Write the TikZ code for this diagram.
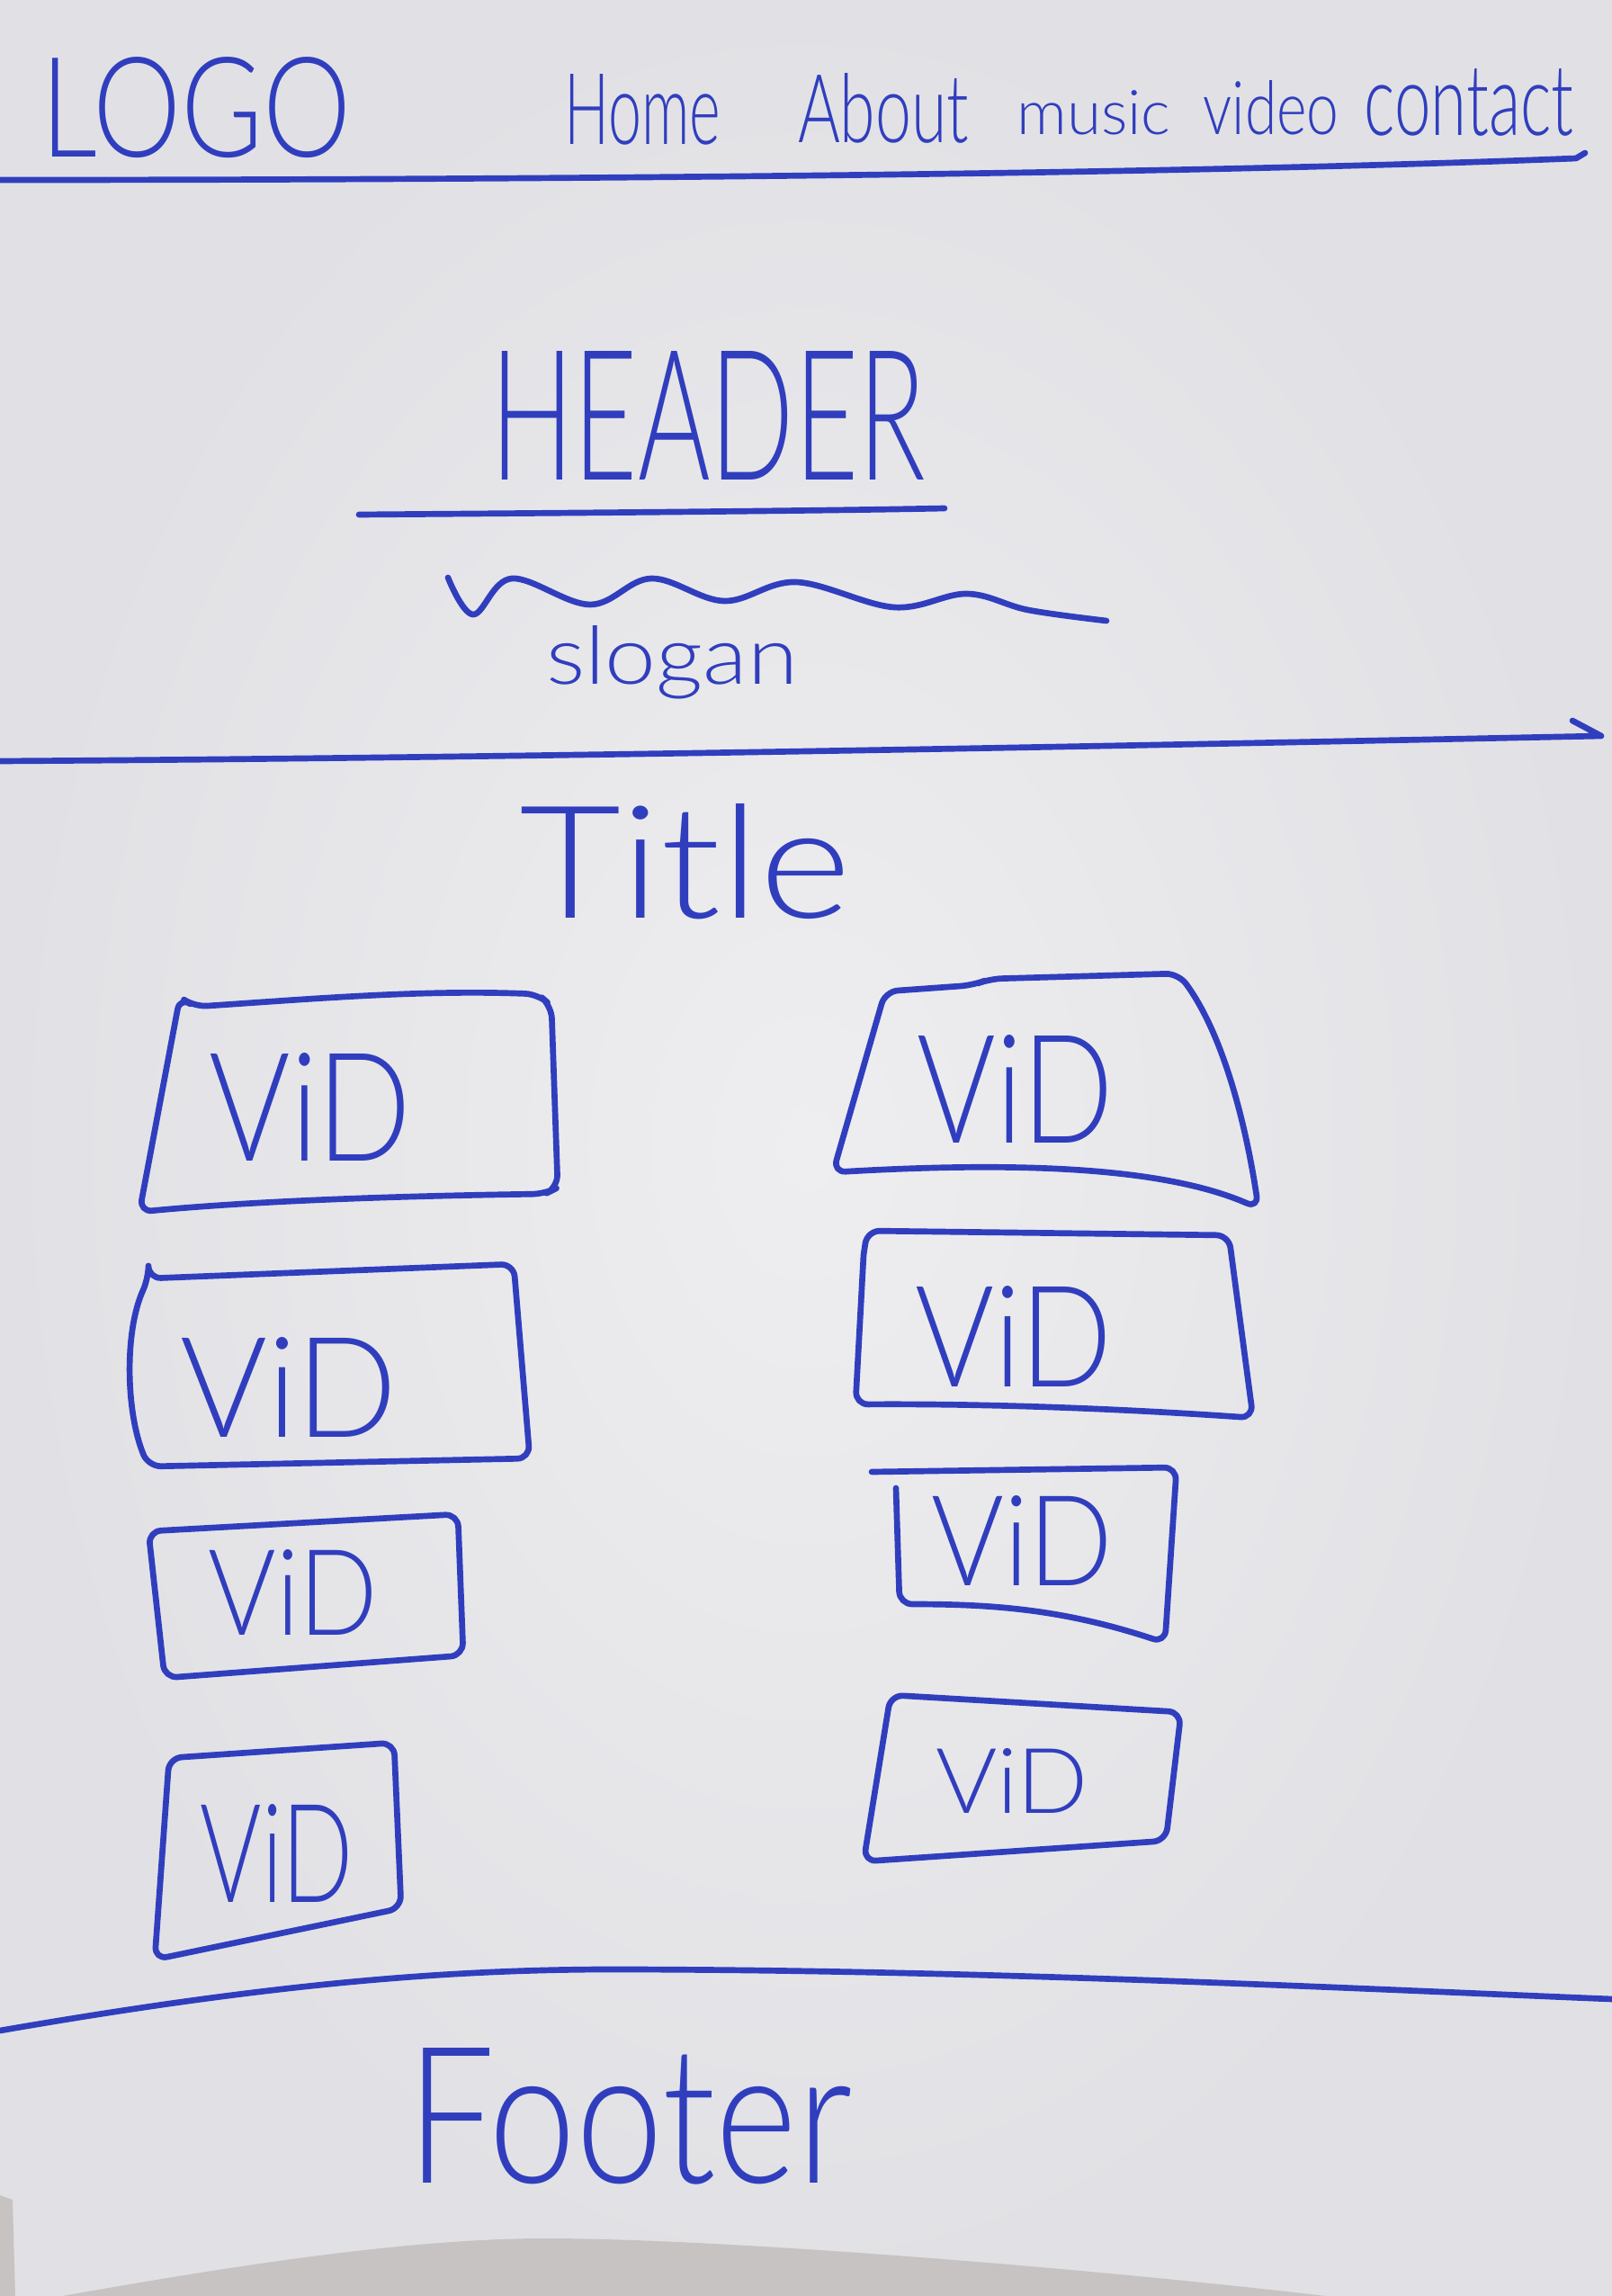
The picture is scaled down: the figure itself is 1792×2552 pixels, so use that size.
\documentclass[tikz,border=0pt]{standalone}
\usepackage{fontspec}
\usepackage{graphicx}
\IfFontExistsTF{Lato-Light.ttf}{\newfontfamily\hand{Lato-Light.ttf}}{%
  \IfFontExistsTF{Lato Light}{\newfontfamily\hand{Lato Light}}{%
    \IfFontExistsTF{FiraSans-Light.otf}{\newfontfamily\hand{FiraSans-Light.otf}}{%
      \newfontfamily\hand{Open Sans}}}}
\newlength\pxu
\setlength\pxu{0.01cm}
\newcommand\hw[3]{\resizebox{#1\pxu}{#2\pxu}{\hand #3}}
\definecolor{ink}{RGB}{48,62,190}
\definecolor{paper}{RGB}{225,225,229}
\definecolor{paperlight}{RGB}{238,238,240}
\definecolor{floorgray}{RGB}{198,195,194}
\begin{document}
\begin{tikzpicture}[x=0.01cm,y=-0.01cm,
  pen/.style={draw=ink, line width=1.9pt, line cap=round, line join=round},
  vidbox/.style={pen, rounded corners=4pt},
  lbl/.style={inner sep=0pt, outer sep=0pt, text=ink}]
\useasboundingbox (0,0) rectangle (1792,2552);
% paper and background
\shade[inner color=paperlight, outer color=paper] (0,0) rectangle (1792,2552);
\fill[floorgray] (69,2552) .. controls (250,2520) and (450,2488) .. (606,2488)
  .. controls (800,2488) and (1200,2520) .. (1474,2552) -- cycle;
\fill[floorgray] (0,2440) -- (14,2445) -- (17,2552) -- (0,2552) -- cycle;

% navigation bar
\node[lbl] (logo) at (218,120) {\hw{345}{111}{LOGO}};
\node[lbl] (home) at (714,122) {\hw{174}{78}{Home}};
\node[lbl] (about) at (982,120) {\hw{190}{77}{About}};
\node[lbl] (music) at (1216,125) {\hw{171}{49}{music}};
\node[lbl] (video) at (1413,120) {\hw{151}{60}{video}};
\node[lbl] (contact) at (1633,114) {\hw{233}{74}{contact}};
\draw[pen] (0,200) .. controls (600,200) and (1300,194) .. (1752,176) -- (1762,170);

% header
\node[lbl] (header) at (787,462) {\hw{484}{143}{HEADER}};
\draw[pen] (399,572) .. controls (650,570) and (900,568) .. (1050,565);
\draw[pen] plot[smooth, tension=0.6] coordinates {(498,642) (526,683) (569,643) (656,672) (724,643) (805,668) (885,647) (994,675) (1075,660) (1143,678) (1230,690)};
\node[lbl] (slogan) at (747,736) {\hw{280}{65}{slogan}};
\draw[pen] (0,846) .. controls (600,842) and (1200,830) .. (1780,818) -- (1748,801);

% content
\node[lbl] (title) at (762,958) {\hw{369}{127}{Title}};

\draw[vidbox] (200,1108) -- (216,1119) .. controls (350,1110) and (470,1100) .. (598,1105)
  -- (613,1118) -- (620,1320) -- (606,1327) .. controls (400,1330) and (260,1337) .. (155,1347) -- cycle;
\node[lbl] (v1) at (345,1230) {\hw{225}{120}{ViD}};

\draw[vidbox] (165,1421) -- (571,1405) -- (589,1621) -- (165,1630)
  .. controls (140,1570) and (138,1480) .. (165,1421) -- cycle;
\node[lbl] (v2) at (321,1542) {\hw{241}{111}{ViD}};

\draw[vidbox] (165,1702) -- (509,1683) -- (515,1840) -- (183,1865) -- cycle;
\node[lbl] (v3) at (326,1770) {\hw{188}{95}{ViD}};

\draw[vidbox] (188,1954) -- (438,1937) -- (446,2121) -- (172,2178) -- cycle;
\node[lbl] (v4) at (308,2060) {\hw{170}{109}{ViD}};

\draw[vidbox] (984,1102) -- (1082,1095) -- (1100,1088) -- (1310,1082)
  .. controls (1360,1150) and (1385,1250) .. (1399,1343)
  .. controls (1300,1300) and (1150,1290) .. (926,1303) -- cycle;
\node[lbl] (v5) at (1129,1210) {\hw{218}{120}{ViD}};

\draw[vidbox] (960,1395) -- (964,1368) -- (1366,1373) -- (1393,1576)
  .. controls (1250,1566) and (1100,1560) .. (951,1561) -- (960,1395);
\node[lbl] (v6) at (1127,1485) {\hw{219}{112}{ViD}};

\draw[vidbox] (969,1636) -- (1308,1631) -- (1295,1826)
  .. controls (1180,1788) and (1100,1783) .. (1000,1783) -- (996,1654);
\node[lbl] (v7) at (1136,1712) {\hw{201}{100}{ViD}};

\draw[vidbox] (990,1884) -- (1313,1903) -- (1296,2046) -- (960,2069) -- cycle;
\node[lbl] (v8) at (1125,1979) {\hw{170}{72}{ViD}};

% footer
\draw[pen] (0,2257) .. controls (300,2205) and (500,2188) .. (700,2189)
  .. controls (1100,2190) and (1500,2210) .. (1792,2222);
\node[lbl] (footer) at (700,2352) {\hw{495}{150}{Footer}};
\end{tikzpicture}
\end{document}
